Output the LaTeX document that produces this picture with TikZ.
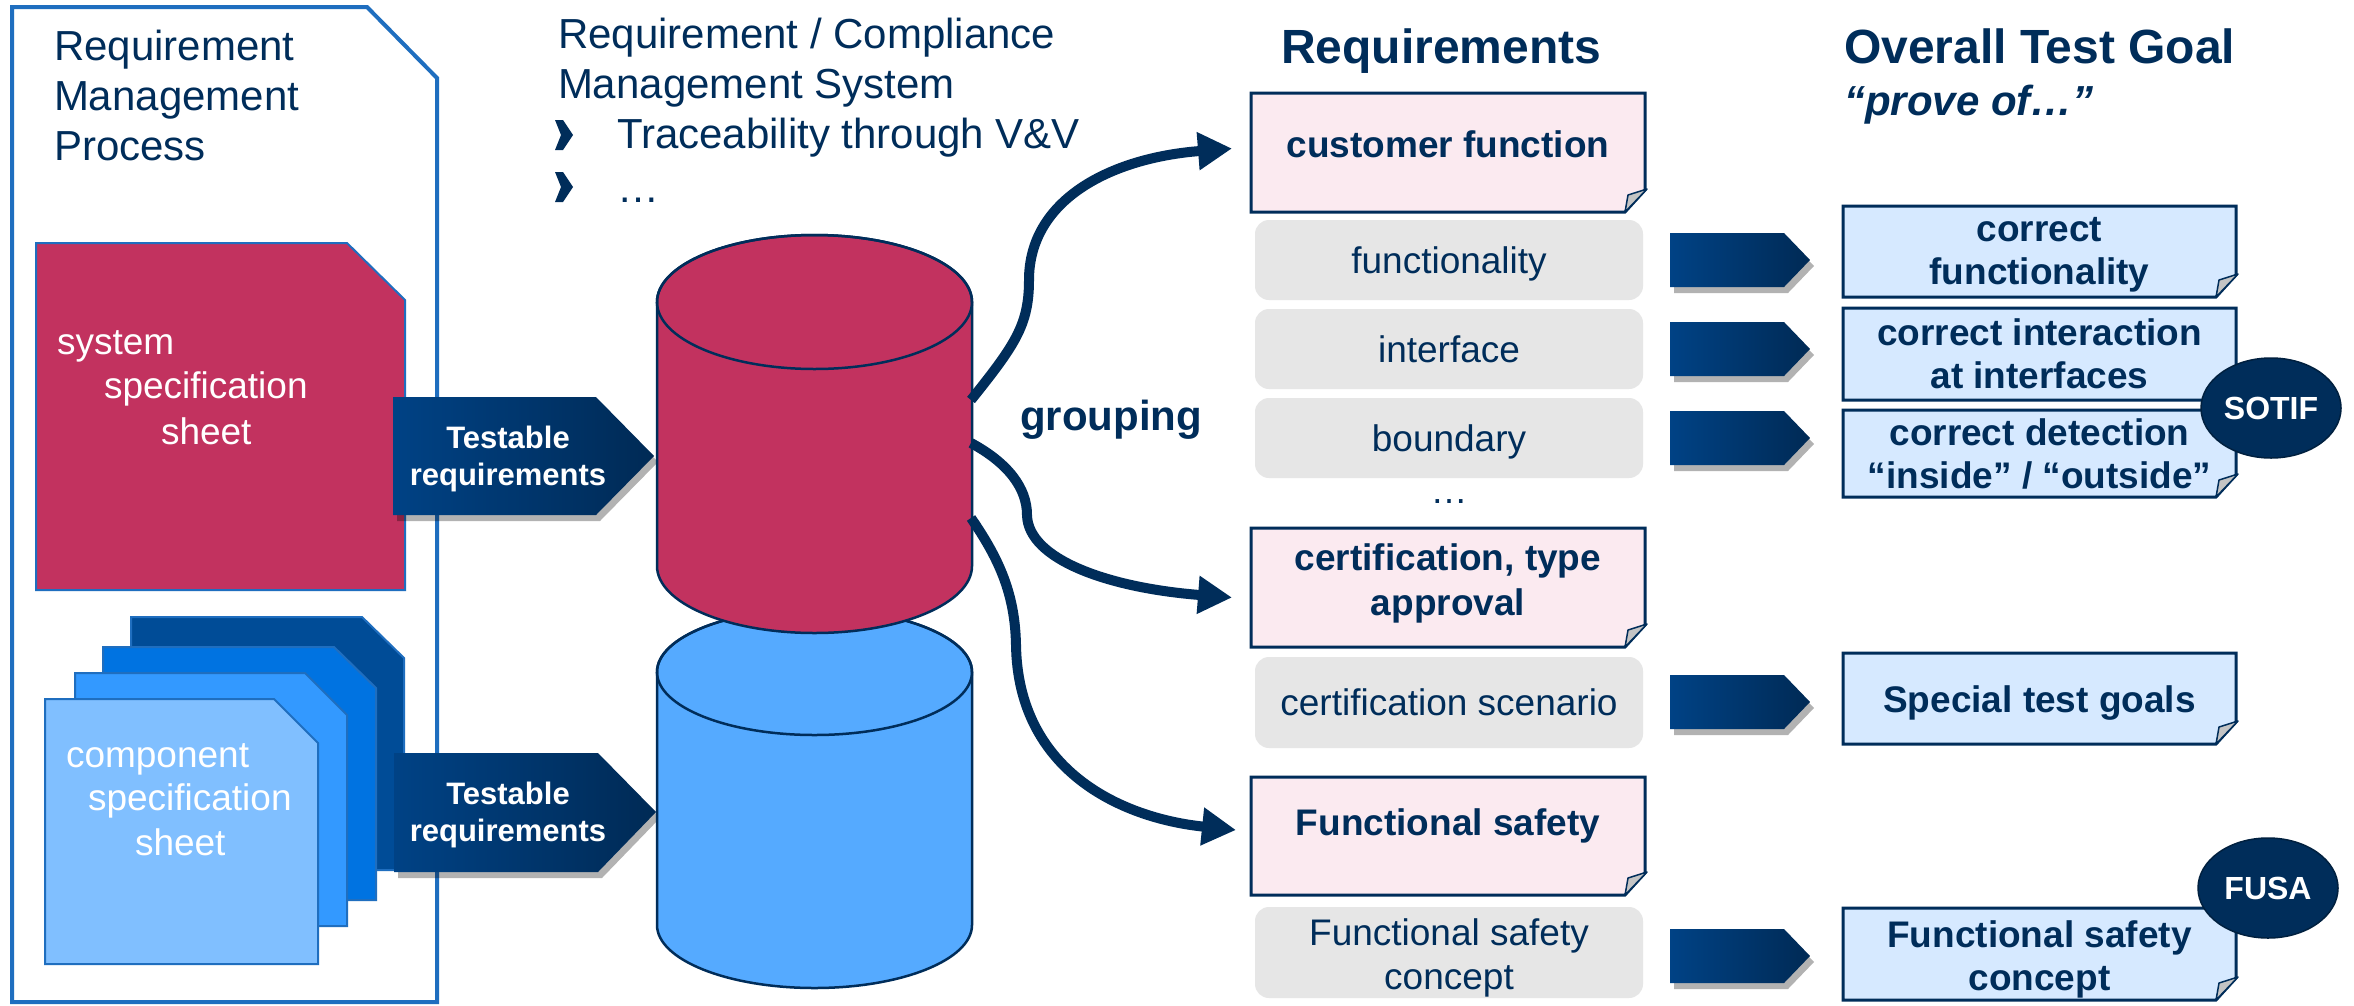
\documentclass[tikz,border=0pt]{standalone}
\usepackage{fontspec}
\setmainfont{Liberation Sans}
\usetikzlibrary{arrows.meta,calc,shadows,backgrounds,shapes.geometric}

\definecolor{navy}{HTML}{002D5A}
\definecolor{frameblue}{HTML}{1F6EBF}
\definecolor{sysred}{HTML}{C2325F}
\definecolor{compA}{HTML}{004C97}
\definecolor{compB}{HTML}{0073E1}
\definecolor{compC}{HTML}{3399FF}
\definecolor{compD}{HTML}{80BFFF}
\definecolor{dbblue}{HTML}{55AAFF}
\definecolor{reqpink}{HTML}{FBEAF0}
\definecolor{reqgrey}{HTML}{E6E6E6}
\definecolor{goalblue}{HTML}{D6E9FF}
\definecolor{foldgrey}{HTML}{C4C4C4}
\definecolor{chevL}{HTML}{004285}
\definecolor{chevR}{HTML}{002A55}

\newcommand{\pxsize}[2]{\fontsize{#1bp}{#2bp}\selectfont}

% note box with a folded bottom-right corner, drawn behind node #1
\newcommand{\dogear}[2]{%
  \draw[line width=3bp, draw=navy, fill=#2, line join=miter]
    (#1.north west) -- (#1.north east) -- ($(#1.south east)+(0,-22)$)
    -- ($(#1.south east)+(-20,0)$) -- (#1.south west) -- cycle;
  \draw[line width=1.5bp, draw=navy, fill=foldgrey, line join=round]
    ($(#1.south east)+(-20,0)$) -- ($(#1.south east)+(-17,-17)$)
    -- ($(#1.south east)+(2,-23)$) -- cycle;
}

\tikzset{
  every node/.style={inner sep=0pt, outer sep=0pt},
  txt/.style={text=navy, align=left},
  sheet/.style={draw=frameblue, line width=2bp, line join=miter},
  cyl/.style={draw=navy, line width=2.5bp},
  chevfill/.style={left color=chevL, right color=chevR,
    drop shadow={shadow xshift=4bp, shadow yshift=-6bp, opacity=0.3, fill=black}},
  bigarrow/.style={draw=navy, line width=10bp,
    -{Triangle[length=34bp,width=36bp]}},
  notebox/.style={minimum width=394bp, minimum height=#1},
  reqitem/.style={fill=reqgrey, rounded corners=14bp, minimum width=388bp,
    minimum height=#1, text=navy, align=center, font=\pxsize{37}{44},
    text height=30bp, text depth=4bp},
  goalbox/.style={minimum width=393bp, minimum height=#1},
  goaltext/.style={text=navy, align=center, font=\bfseries\pxsize{37}{43}},
  notetext/.style={text=navy, align=center, font=\bfseries\pxsize{37}{45}},
  itemtext/.style={text=navy, align=center, font=\pxsize{37}{44}},
  badge/.style={ellipse, fill=navy, draw=navy!70!black, line width=1.5bp,
    minimum width=140bp, minimum height=100bp, text=white,
    font=\bfseries\pxsize{32}{38}},
  pics/smallchev/.style={code={
    \path[chevfill] (0,-27) -- (114,-27) -- (140,0) -- (114,27) -- (0,27) -- cycle;}},
}

\begin{document}
\begin{tikzpicture}[x=1bp,y=-1bp]
\useasboundingbox (0,0) rectangle (2354,1005);
\begin{pgfonlayer}{background}
  \fill[white] (0,0) rectangle (2354,1005);
\end{pgfonlayer}

% ---------------- requirement management process ----------------
\draw[draw=frameblue, line width=4bp, line join=miter]
  (12,7) -- (367,7) -- (437,78) -- (437,1002) -- (12,1002) -- cycle;
% multi-line nodes are placed by the baseline of their last line
\node[txt, anchor=base west, font=\pxsize{42}{50}] (rmp) at (54,160)
  {Requirement\\Management\\Process};

% system specification sheet
\path[sheet, fill=sysred] (36,243) -- (347,243) -- (405,300) -- (405,590) -- (36,590) -- cycle;
\node[anchor=base west, text=white, font=\pxsize{37}{44}] (sysA) at (57,354) {system};
\node[anchor=base west, text=white, font=\pxsize{37}{44}] (sysB) at (104,398) {specification};
\node[anchor=base west, text=white, font=\pxsize{37}{44}] (sysC) at (161,444) {sheet};

% stack of component specification sheets
\path[sheet, fill=compA] (131,617) -- (362,617) -- (404,658) -- (404,870) -- (131,870) -- cycle;
\path[sheet, fill=compB] (103,647) -- (334,647) -- (376,688) -- (376,900) -- (103,900) -- cycle;
\path[sheet, fill=compC] (75,673) -- (305,673) -- (347,715) -- (347,926) -- (75,926) -- cycle;
\path[sheet, fill=compD] (45,699) -- (274,699) -- (318,743) -- (318,964) -- (45,964) -- cycle;
\node[anchor=base west, text=white, font=\pxsize{37}{44}] (compA) at (66,767) {component};
\node[anchor=base west, text=white, font=\pxsize{37}{44}] (compB) at (88,810) {specification};
\node[anchor=base west, text=white, font=\pxsize{37}{44}] (compC) at (135,855) {sheet};

% testable requirements chevrons
\path[chevfill] (393,397) -- (596,397) -- (654,456) -- (596,515) -- (393,515) -- cycle;
\node[text=white, align=center, font=\bfseries\pxsize{31}{37}] (testA) at (508,459)
  {Testable\\requirements};
\path[chevfill] (394,753) -- (598,753) -- (656,812) -- (598,872) -- (394,872) -- cycle;
\node[text=white, align=center, font=\bfseries\pxsize{31}{37}] (testB) at (508,815)
  {Testable\\requirements};

% ---------------- management system ----------------
\node[txt, anchor=base west, font=\pxsize{42}{50}] (rcms) at (558,98)
  {Requirement / Compliance\\Management System};
\fill[navy] (555,120) -- (563,120) -- (573,135) -- (563,150) -- (555,150) -- (561,135) -- cycle;
\fill[navy] (555,172) -- (563,172) -- (573,187) -- (563,202) -- (555,202) -- (561,187) -- cycle;
\node[txt, anchor=base west, font=\pxsize{42}{50}] (trace) at (617,148) {Traceability through V\&V};
\node[txt, anchor=base west, font=\pxsize{42}{50}] (more) at (617,202) {…};

% component database (behind)
\path[cyl, fill=dbblue] (657,672) -- (657,925)
  arc[start angle=180, end angle=360, x radius=157.5bp, y radius=63bp]
  -- (972,672)
  arc[start angle=0, end angle=180, x radius=157.5bp, y radius=63bp] -- cycle;
\draw[cyl] (814.5,672) ellipse[x radius=157.5bp, y radius=63bp];

% system database (front)
\path[cyl, fill=sysred] (657,302) -- (657,566)
  arc[start angle=180, end angle=360, x radius=157.5bp, y radius=67bp]
  -- (972,302)
  arc[start angle=0, end angle=180, x radius=157.5bp, y radius=67bp] -- cycle;
\draw[cyl] (814.5,302) ellipse[x radius=157.5bp, y radius=67bp];

\coordinate (dbA) at (971,400);
\coordinate (dbB) at (971,443);
\coordinate (dbC) at (971,518);

\node[txt, anchor=base west, font=\bfseries\pxsize{42}{50}] (group) at (1020,430) {grouping};

% ---------------- requirements column ----------------
\node[txt, anchor=base west, font=\bfseries\pxsize{48}{56}] (reqhead) at (1281,63) {Requirements};

\node[notebox=119bp] (cust) at (1448,152.5) {};
\node[notetext] (custT) at (1448,144) {customer function};
\node[reqitem=80bp] (func) at (1449,260) {functionality};
\node[reqitem=80bp] (intf) at (1449,349) {interface};
\node[reqitem=80bp] (bound) at (1449,438) {boundary};
\node[txt, anchor=base, font=\pxsize{37}{44}] (dots) at (1449,503) {…};

\node[notebox=119bp] (cert) at (1448,587.5) {};
\node[notetext] (certT) at (1448,583) {certification, type\\approval};
\node[reqitem=91bp] (certsc) at (1449,702.5) {certification scenario};

\node[notebox=118bp] (fs) at (1448,836) {};
\node[notetext] (fsT) at (1448,826) {Functional safety};
\node[reqitem=91bp] (fsc) at (1449,952.5) {};
\node[itemtext] (fscT) at (1449,958) {Functional safety\\concept};

% grouping arrows
\draw[bigarrow] (dbA) .. controls (1015,345) and (1029,325) .. (1029,280)
  .. controls (1029,200) and (1110,158) .. ($(cust.west)+(-19,-4)$);
\draw[bigarrow] (dbB) .. controls (1008,463) and (1027,488) .. (1027,515)
  .. controls (1028,560) and (1110,588) .. ($(cert.west)+(-19,10)$);
\draw[bigarrow] (dbC) .. controls (1000,560) and (1015,595) .. (1016,645)
  .. controls (1018,770) and (1120,818) .. ($(fs.west)+(-15,-6)$);

% ---------------- mapping chevrons ----------------
\pic at (1670,260) {smallchev};
\pic at (1670,349) {smallchev};
\pic at (1670,438) {smallchev};
\pic at (1670,702) {smallchev};
\pic at (1670,956) {smallchev};

% ---------------- overall test goal column ----------------
\node[txt, anchor=base west, font=\bfseries\pxsize{48}{56}] (goalhead) at (1844,63) {Overall Test Goal};
\node[txt, anchor=base west, font=\bfseries\itshape\pxsize{42}{50}] (prove) at (1844,115) {“prove of…”};

\node[goalbox=91bp] (gcf) at (2039.5,251.5) {};
\node[goaltext] (gcfT) at (2039.5,255) {correct\\functionality};
\node[goalbox=92bp] (gci) at (2039.5,354) {};
\node[goaltext] (gciT) at (2039.5,354) {correct interaction\\at interfaces};
\node[goalbox=87bp] (gcd) at (2039.5,453.5) {};
\node[goaltext] (gcdT) at (2039.5,453.5) {correct detection\\“inside” / “outside”};
\node[goalbox=91bp] (gst) at (2039.5,698.5) {};
\node[goaltext] (gstT) at (2039.5,703) {Special test goals};
\node[goalbox=92bp] (gfs) at (2039.5,954) {};
\node[goaltext] (gfsT) at (2039.5,959) {Functional safety\\concept};

% note outlines go behind their texts
\begin{pgfonlayer}{background}
  \dogear{cust}{reqpink}
  \dogear{cert}{reqpink}
  \dogear{fs}{reqpink}
  \dogear{gcf}{goalblue}
  \dogear{gci}{goalblue}
  \dogear{gcd}{goalblue}
  \dogear{gst}{goalblue}
  \dogear{gfs}{goalblue}
\end{pgfonlayer}

\node[badge] (sotif) at (2271,408) {SOTIF};
\node[badge] (fusa) at (2268,888) {FUSA};

\end{tikzpicture}
\end{document}
